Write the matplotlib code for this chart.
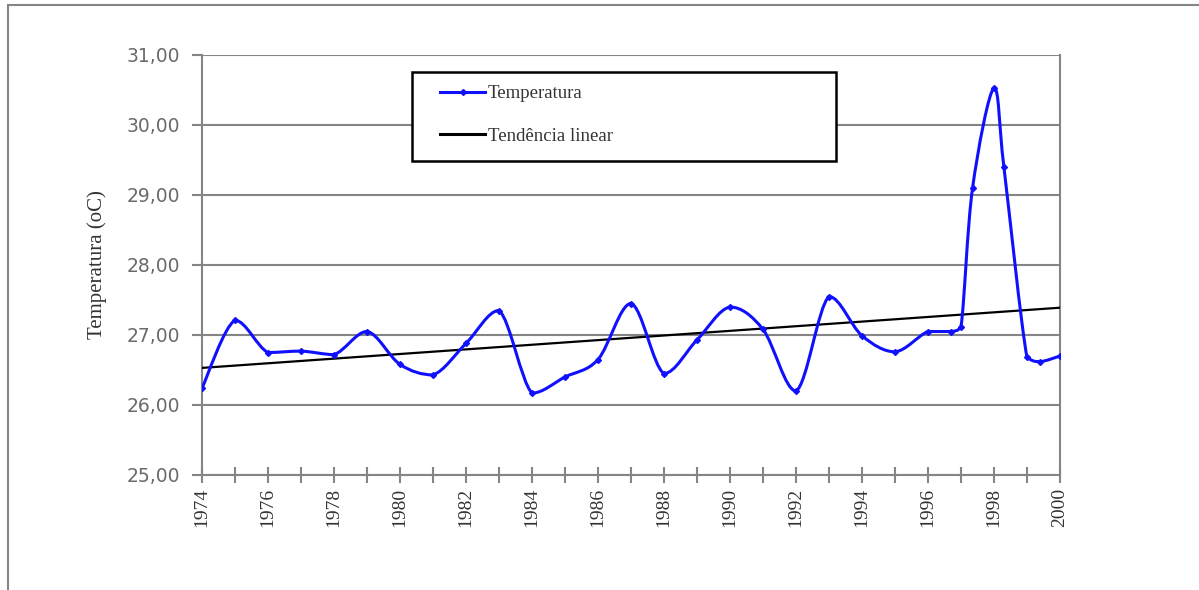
import numpy as np
import matplotlib
matplotlib.use('Agg')
import matplotlib.pyplot as plt
from matplotlib.path import Path
from matplotlib.patches import PathPatch, Rectangle
from matplotlib.ticker import MultipleLocator, FuncFormatter
from matplotlib.lines import Line2D

# temperatura media anual
anos = [1974, 1975, 1976, 1977, 1978, 1979, 1980, 1981, 1982, 1983, 1984,
        1985, 1986, 1987, 1988, 1989, 1990, 1991, 1992, 1993, 1994, 1995,
        1996, 1996.7, 1997, 1997.35, 1998, 1998.3, 1999, 1999.4, 2000]
temp = [26.24, 27.21, 26.75, 26.77, 26.72, 27.05, 26.58, 26.43, 26.88, 27.35,
        26.17, 26.40, 26.65, 27.45, 26.45, 26.93, 27.40, 27.08, 26.20, 27.55,
        26.99, 26.76, 27.05, 27.05, 27.12, 29.10, 30.53, 29.40, 26.68, 26.62,
        26.70]

# tendencia linear (extremos)
anos_tend = [1974, 2000]
temp_tend = [26.53, 27.39]

azul = '#1010ff'
cinza = '#858585'

W, H = 1199, 590


def smooth_path(x, y):
    # curva suavizada (bezier cubica), sem ultrapassar os pontos vizinhos
    pts = np.column_stack([x, y])
    n = len(pts)
    verts = [pts[0]]
    codes = [Path.MOVETO]
    for i in range(n - 1):
        p0 = pts[i - 1] if i > 0 else pts[i]
        p1 = pts[i]
        p2 = pts[i + 1]
        p3 = pts[i + 2] if i + 2 < n else pts[i + 1]
        c1 = p1 + (p2 - p0) / 6.0
        c2 = p2 - (p3 - p1) / 6.0
        lo, hi = min(p1[1], p2[1]), max(p1[1], p2[1])
        c1[1] = np.clip(c1[1], lo, hi)
        c2[1] = np.clip(c2[1], lo, hi)
        verts += [c1, c2, p2]
        codes += [Path.CURVE4] * 3
    return Path(verts, codes)


fig = plt.figure(figsize=(W / 100, H / 100), dpi=100)
x0, x1, y0, y1 = 202, 1060, 55, 475
ax = fig.add_axes([x0 / W, 1 - y1 / H, (x1 - x0) / W, (y1 - y0) / H])


def ax_frac(px, py):
    return (px - x0) / (x1 - x0), (y1 - py) / (y1 - y0)


# moldura externa
fig.patches.append(Rectangle((8 / W, -0.1), 1.2, 1 - 5 / H + 0.1,
                             transform=fig.transFigure, fill=False,
                             edgecolor=cinza, lw=1.5))

ax.set_xlim(1974, 2000)
ax.set_ylim(25, 31)

ax.plot(anos_tend, temp_tend, color='black', lw=1.6, zorder=3)
ax.add_patch(PathPatch(smooth_path(anos, temp), fill=False, edgecolor=azul,
                       lw=2.2, zorder=4))
ax.plot(anos, temp, ls='none', marker='D', ms=3, color=azul, zorder=5)

ax.yaxis.set_major_locator(MultipleLocator(1))
ax.yaxis.grid(True, color=cinza, lw=1.5)
ax.set_axisbelow(True)
ax.yaxis.set_major_formatter(FuncFormatter(lambda v, p: ('%.2f' % v).replace('.', ',')))
ax.xaxis.set_major_locator(MultipleLocator(2))
ax.xaxis.set_minor_locator(MultipleLocator(1))
ax.xaxis.set_major_formatter(FuncFormatter(lambda v, p: '%d' % v))

for s in ['left', 'bottom', 'right']:
    ax.spines[s].set_color(cinza)
    ax.spines[s].set_linewidth(1.5)
ax.spines['top'].set_visible(False)

ax.tick_params(axis='y', direction='out', length=7, width=1.5, color=cinza,
               labelsize=13.5, labelcolor='#6a6a6a', pad=9)
ax.tick_params(axis='x', which='both', direction='inout', length=11, width=1.5,
               color=cinza, labelsize=14, labelcolor='#333333', pad=4,
               labelrotation=90)
for lb in ax.get_xticklabels():
    lb.set_family('Liberation Serif')

ax.set_ylabel('Temperatura (oC)', family='Liberation Serif', fontsize=15,
              color='#333333', labelpad=14)

# caixa da legenda
bx0, by0 = ax_frac(412, 161)
bx1, by1 = ax_frac(836, 72)
ax.add_patch(Rectangle((bx0, by0), bx1 - bx0, by1 - by0, transform=ax.transAxes,
                       facecolor='white', edgecolor='black', lw=1.8, zorder=9))

handles = [Line2D([], [], color=azul, lw=2.2, marker='D', ms=3),
           Line2D([], [], color='black', lw=2.2)]
leg = ax.legend(handles, ['Temperatura', 'Tendência linear'],
                loc='upper left', bbox_to_anchor=ax_frac(440, 85),
                prop={'family': 'Liberation Serif', 'size': 13.5},
                frameon=False, borderpad=0, labelspacing=1.35,
                handlelength=2.4, handletextpad=0.15, borderaxespad=0)
leg.set_zorder(10)
for t in leg.get_texts():
    t.set_color('#333333')

fig.savefig('out.png', dpi=100, facecolor='white')
